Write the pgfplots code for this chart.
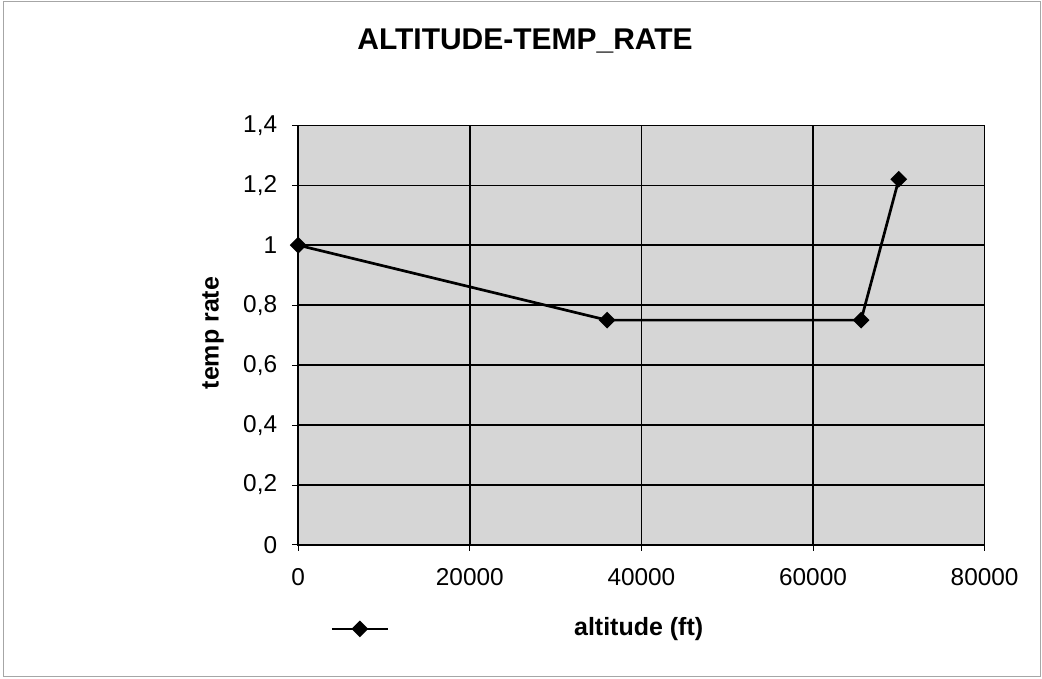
\documentclass[border=0pt]{standalone}
\usepackage{fontspec}
\setmainfont{Liberation Sans}
\usepackage{pgfplots}
\pgfplotsset{compat=1.18}
\begin{document}
\begin{tikzpicture}[x=1pt,y=1pt]
\draw[white] (0,0) rectangle (521,339);
\draw[gray!70, line width=0.6pt] (1.5,0.5) rectangle (520.5,338.5);
\node[font=\bfseries\fontsize{15}{17}\selectfont] at (262.5,318.5) {ALTITUDE-TEMP\_RATE};
\begin{axis}[
  at={(149pt,66.5pt)}, anchor=south west,
  scale only axis, width=343.5pt, height=210pt,
  xmin=0, xmax=80000, ymin=0, ymax=1.4,
  xtick={0,20000,40000,60000,80000},
  ytick={0,0.2,0.4,0.6,0.8,1,1.2,1.4},
  scaled x ticks=false,
  x tick label style={/pgf/number format/1000 sep={}},
  y tick label style={/pgf/number format/fixed, /pgf/number format/precision=1, /pgf/number format/use comma},
  /pgf/number format/assume math mode=true,
  tick label style={font=\fontsize{12.2}{14}\selectfont},
  xticklabel style={yshift=-5pt},
  yticklabel style={xshift=-4pt},
  tick pos=left,
  tick align=outside, major tick length=3pt,
  tick style={black, line width=0.5pt},
  axis background/.style={fill=black!16},
  grid=major, grid style={black, line width=0.75pt},
  axis line style={black, line width=0.75pt},
  xlabel={altitude (ft)},
  xlabel style={font=\bfseries\fontsize{12.5}{14}\selectfont, at={(axis description cs:0.496,-0.2)}, anchor=center},
  ylabel={temp rate},
  ylabel style={font=\bfseries\fontsize{12.5}{14}\selectfont, at={(axis description cs:-0.124,0.505)}, anchor=center},
  legend style={draw=none, fill=none, at={(axis description cs:0.0466,-0.2)}, anchor=west, inner sep=0pt, nodes={inner sep=0pt}},
  legend image code/.code={\draw[#1, mark repeat=2, mark phase=2] plot coordinates {(0pt,0pt) (14pt,0pt) (28pt,0pt)};},
]
\addplot[black, line width=1.35pt, mark=square*, mark size=2.3pt, mark options={rotate=45, solid, fill=black}]
coordinates {(0,1) (36000,0.75) (65600,0.75) (70000,1.22)};
\addlegendentry{}
\end{axis}
\end{tikzpicture}
\end{document}
